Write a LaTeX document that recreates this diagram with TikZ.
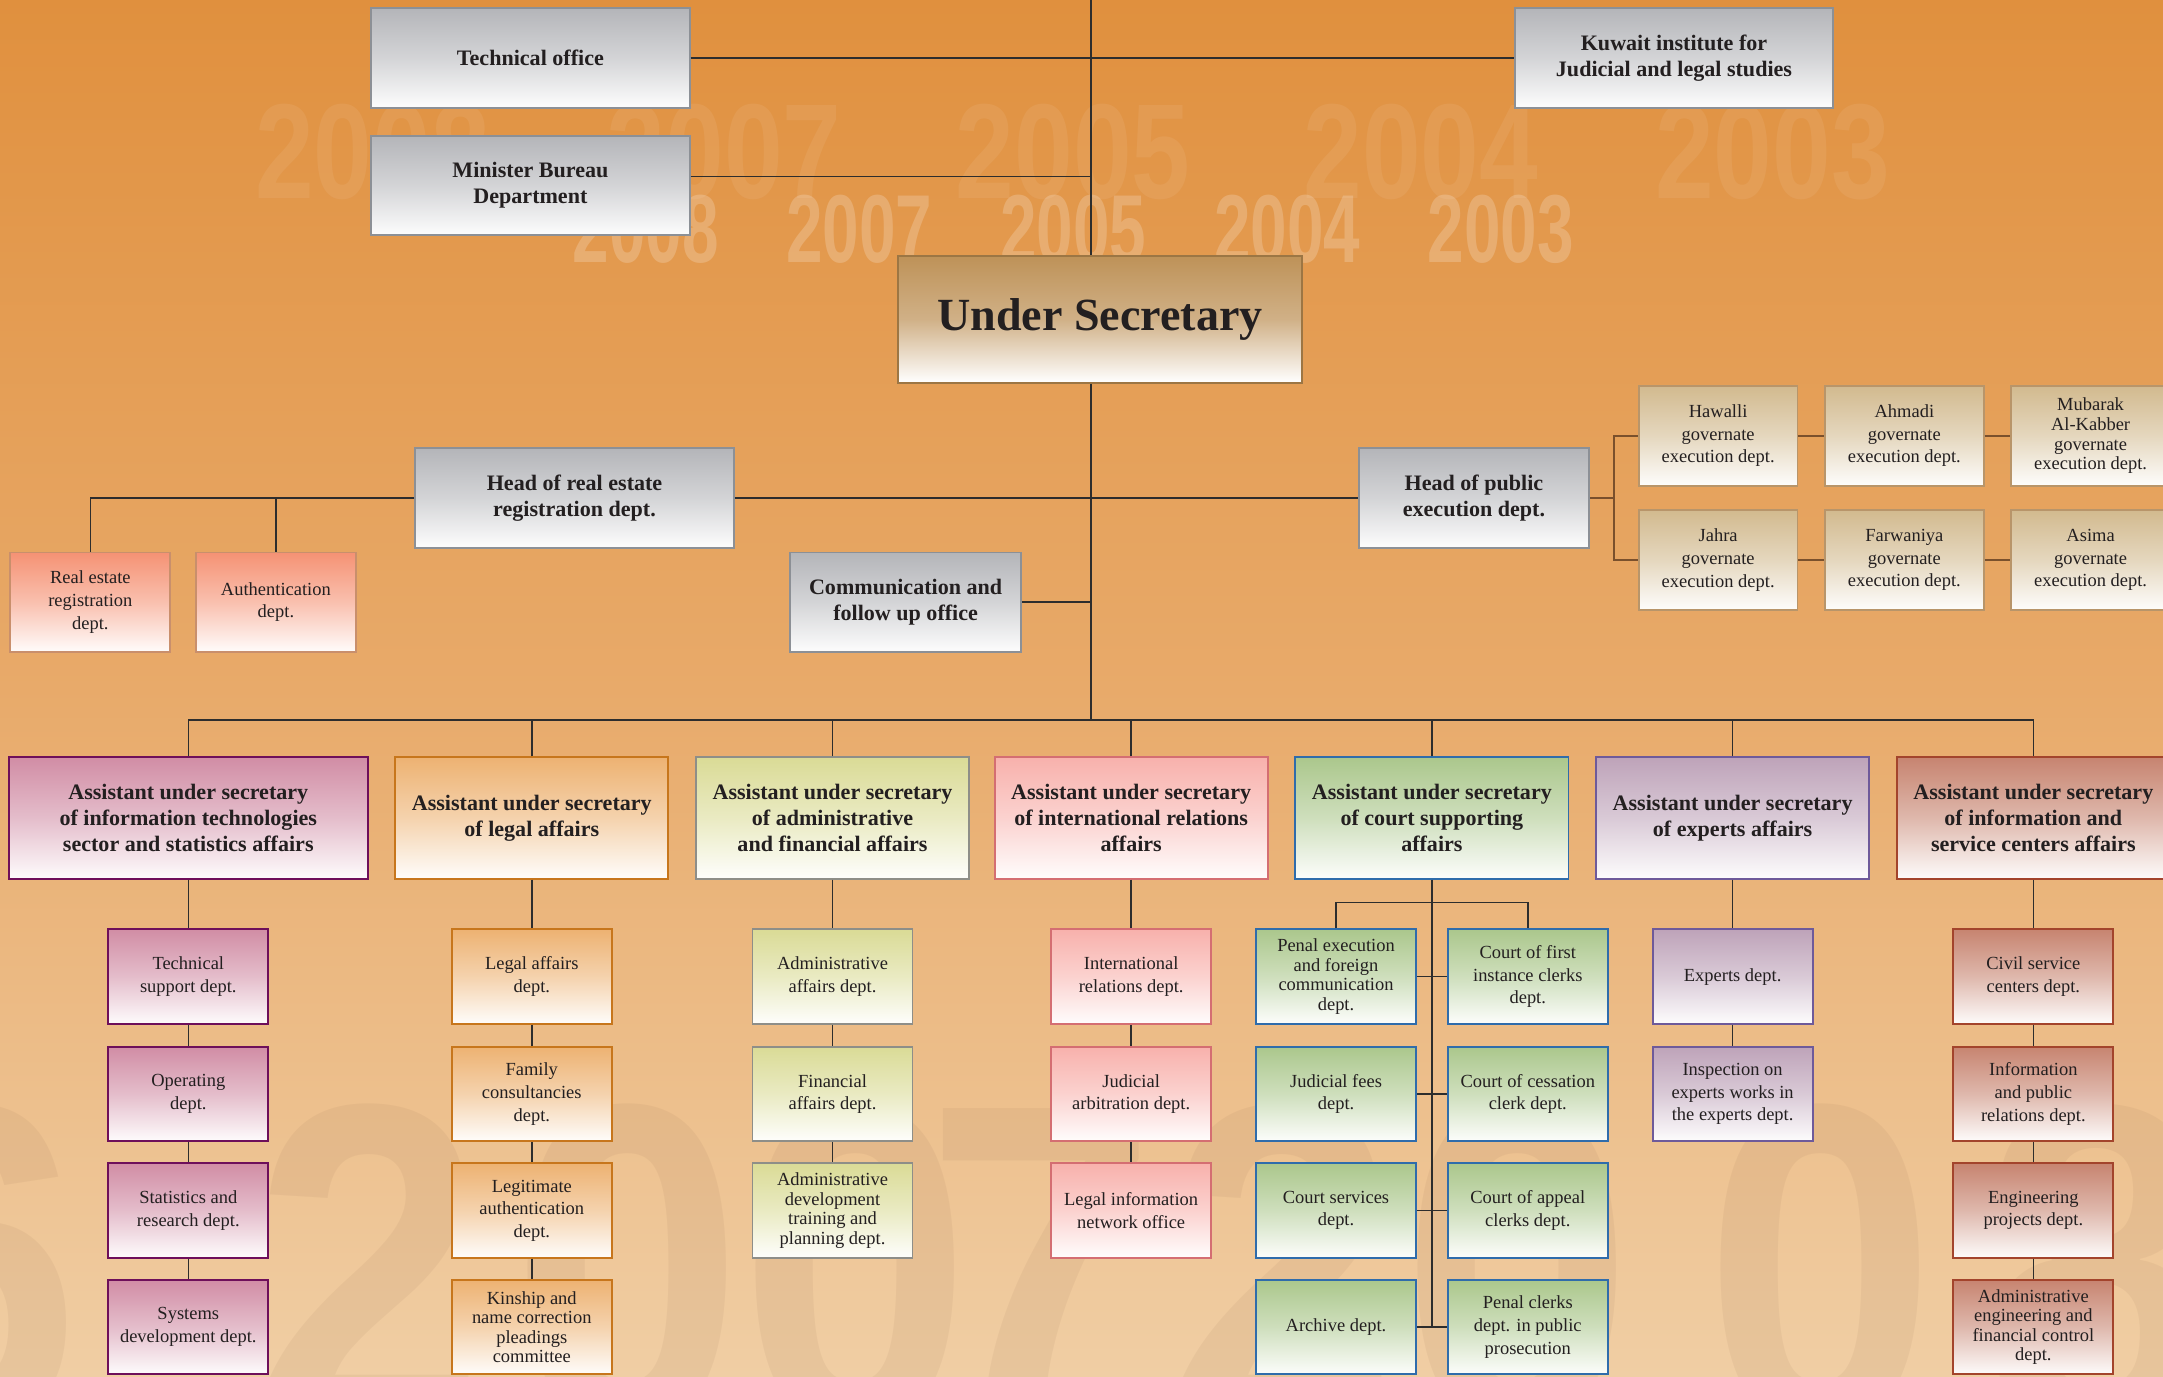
\documentclass[tikz,border=0pt]{standalone}
\usepackage{fontspec}
\setmainfont{Liberation Serif}
\newfontfamily\yearfont{Liberation Sans}
\usepackage{tikz}
\usetikzlibrary{calc}
\usetikzlibrary{shadings}

\definecolor{ink}{RGB}{35,31,32}
\definecolor{wire}{RGB}{45,45,45}
\definecolor{govwire}{RGB}{122,80,44}
\definecolor{bgtop}{RGB}{224,144,62}
\definecolor{bgmid}{RGB}{232,170,106}
\definecolor{bgbottom}{RGB}{240,206,164}
\definecolor{yearshade}{RGB}{120,80,60}
\definecolor{greytop}{RGB}{180,181,185}
\definecolor{greyedge}{RGB}{140,144,150}
\definecolor{bosstop}{RGB}{190,146,88}
\definecolor{bossedge}{RGB}{156,118,68}
\definecolor{govtop}{RGB}{210,186,143}
\definecolor{govedge}{RGB}{184,149,106}
\definecolor{salmontop}{RGB}{245,146,116}
\definecolor{salmonedge}{RGB}{201,143,108}
\definecolor{ittop}{RGB}{209,141,165}
\definecolor{itedge}{RGB}{110,15,90}
\definecolor{legaltop}{RGB}{237,178,114}
\definecolor{legaledge}{RGB}{199,118,28}
\definecolor{admintop}{RGB}{218,219,150}
\definecolor{adminedge}{RGB}{142,142,136}
\definecolor{intltop}{RGB}{248,177,172}
\definecolor{intledge}{RGB}{212,110,114}
\definecolor{courttop}{RGB}{171,199,140}
\definecolor{courtedge}{RGB}{47,108,171}
\definecolor{experttop}{RGB}{190,163,185}
\definecolor{expertedge}{RGB}{110,90,154}
\definecolor{infotop}{RGB}{199,132,112}
\definecolor{infoedge}{RGB}{163,68,44}

\newcommand{\headfont}{\fontsize{8}{9.4}\selectfont\bfseries}
\newcommand{\deptfont}{\fontsize{6.7}{8.2}\selectfont}
\newcommand{\packfont}{\fontsize{6.7}{7.1}\selectfont}
\newcommand{\bossfont}{\fontsize{16.7}{20}\selectfont\bfseries}
\newcommand{\widthoffice}{115.5pt}
\newcommand{\widthhead}{83.5pt}
\newcommand{\widthassist}{99pt}
\newcommand{\widthdept}{58pt}

\tikzset{
    common/.style={draw, rectangle, align=center, text=ink, inner sep=1pt, line width=0.7pt},
    tint/.style 2 args={common, top color=#1, bottom color=#1!3!white, middle color=#1!58!white, draw=#2},
    office/.style={tint={greytop}{greyedge}, font=\headfont, minimum width=\widthoffice, minimum height=36pt},
    headbox/.style={office, minimum width=\widthhead},
    boss/.style={common, top color=bosstop, bottom color=white, middle color=bosstop!72!white, draw=bossedge,
        font=\bossfont, minimum width=146.5pt, minimum height=46pt},
    gov/.style={tint={govtop}{govedge}, font=\deptfont, minimum width=57.5pt, minimum height=36pt},
    estate/.style={tint={salmontop}{salmonedge}, font=\deptfont, minimum width=58pt, minimum height=36pt},
    assist/.style={tint={#1top}{#1edge}, font=\headfont, minimum width=\widthassist, minimum height=44pt},
    dept/.style={tint={#1top}{#1edge}, font=\deptfont, minimum width=\widthdept, minimum height=34.25pt},
    packed/.style={font=\packfont},
    link/.style={draw=wire, line width=0.55pt},
    govlink/.style={draw=govwire, line width=0.9pt},
    yearlight/.style={inner sep=0pt, text=white, text opacity=0.2, font={\yearfont\bfseries\fontsize{35}{35}\selectfont}},
    yearfaint/.style={inner sep=0pt, text=white, text opacity=0.07, font={\yearfont\bfseries\fontsize{49}{49}\selectfont}},
    yeargiant/.style={inner sep=0pt, anchor=base, text=yearshade, text opacity=0.07, font={\yearfont\bfseries\fontsize{168}{168}\selectfont}}
}

\begin{document}
\begin{tikzpicture}[x=0.5pt, y=-0.5pt]
    \useasboundingbox (0,0) rectangle (1568,998);
    \fill[top color=bgtop, bottom color=bgbottom, middle color=bgmid] (0,0) rectangle (1568,998);

    % years behind the chart
    \foreach \yr/\px [count=\i] in {2008/270, 2007/525, 2005/778, 2004/1030, 2003/1285}
        \node[yearfaint] (yf\i) at (\px,110) {\scalebox{0.78}[1]{\yr}};
    \foreach \yr/\px [count=\i] in {2008/468, 2007/623, 2005/778, 2004/933, 2003/1088}
        \node[yearlight] (yl\i) at (\px,166) {\scalebox{0.68}[1]{\yr}};
    \foreach \dg/\px [count=\i] in {6/-25, 2/268, 0/455, 0/620, 7/755, 2/930, 0/1100, 0/1320, 8/1520}
        \node[yeargiant] (yg\i) at (\px,1035) {\scalebox{0.9}[1]{\dg}};

    % top offices
    \node[office] (tech) at (384.5,42) {Technical office};
    \node[office] (minister) at (384.5,134.5) {Minister Bureau\\Department};
    \node[office] (kuwait) at (1213.5,42) {Kuwait institute for\\Judicial and legal studies};
    \node[boss] (under) at (797.5,231.5) {Under Secretary};

    \coordinate (crown) at (791,0);
    \coordinate (mbjoin) at (791,128);
    \coordinate (hub) at (791,522);
    \coordinate (govfork) at (1170,361);

    % heads
    \node[office] (realhead) at (416.5,361) {Head of real estate\\registration dept.};
    \node[headbox] (pubhead) at (1068.5,361) {Head of public\\execution dept.};
    \node[headbox] (comm) at (656.5,436.5) {Communication and\\follow up office};
    \node[estate] (realreg) at (65.5,436.5) {Real estate\\registration\\dept.};
    \node[estate] (auth) at (200,436.5) {Authentication\\dept.};

    % governates
    \node[gov] (hawalli) at (1245.5,316) {Hawalli\\governate\\execution dept.};
    \node[gov] (ahmadi) at (1380.5,316) {Ahmadi\\governate\\execution dept.};
    \node[gov, packed] (mubarak) at (1515.5,316) {Mubarak\\Al-Kabber\\governate\\execution dept.};
    \node[gov] (jahra) at (1245.5,406) {Jahra\\governate\\execution dept.};
    \node[gov] (farwaniya) at (1380.5,406) {Farwaniya\\governate\\execution dept.};
    \node[gov] (asima) at (1515.5,406) {Asima\\governate\\execution dept.};

    % assistant under secretaries
    \node[assist=it, minimum width=130pt] (asit) at (136.5,593) {Assistant under secretary\\of information technologies\\sector and statistics affairs};
    \node[assist=legal] (aslegal) at (385.5,593) {Assistant under secretary\\of legal affairs};
    \node[assist=admin] (asadmin) at (603.5,593) {Assistant under secretary\\of administrative\\and financial affairs};
    \node[assist=intl] (asintl) at (820,593) {Assistant under secretary\\of international relations\\affairs};
    \node[assist=court] (ascourt) at (1038,593) {Assistant under secretary\\of court supporting\\affairs};
    \node[assist=expert] (asexpert) at (1256,593) {Assistant under secretary\\of experts affairs};
    \node[assist=info] (asinfo) at (1474,593) {Assistant under secretary\\of information and\\service centers affairs};

    % departments
    \node[dept=it] (it1) at (136.5,708) {Technical\\support dept.};
    \node[dept=it] (it2) at (136.5,793) {Operating\\dept.};
    \node[dept=it] (it3) at (136.5,877.5) {Statistics and\\research dept.};
    \node[dept=it] (it4) at (136.5,962) {Systems\\development dept.};

    \node[dept=legal] (legal1) at (385.5,708) {Legal affairs\\dept.};
    \node[dept=legal] (legal2) at (385.5,793) {Family\\consultancies\\dept.};
    \node[dept=legal] (legal3) at (385.5,877.5) {Legitimate\\authentication\\dept.};
    \node[dept=legal, packed] (legal4) at (385.5,962) {Kinship and\\name correction\\pleadings\\committee};

    \node[dept=admin] (admin1) at (603.5,708) {Administrative\\affairs dept.};
    \node[dept=admin] (admin2) at (603.5,793) {Financial\\affairs dept.};
    \node[dept=admin, packed] (admin3) at (603.5,877.5) {Administrative\\development\\training and\\planning dept.};

    \node[dept=intl] (intl1) at (820,708) {International\\relations dept.};
    \node[dept=intl] (intl2) at (820,793) {Judicial\\arbitration dept.};
    \node[dept=intl] (intl3) at (820,877.5) {Legal information\\network office};

    \node[dept=court, packed] (courtL1) at (968.5,708) {Penal execution\\and foreign\\communication\\dept.};
    \node[dept=court] (courtL2) at (968.5,793) {Judicial fees\\dept.};
    \node[dept=court] (courtL3) at (968.5,877.5) {Court services\\dept.};
    \node[dept=court] (courtL4) at (968.5,962) {Archive dept.};
    \node[dept=court] (courtR1) at (1107.5,708) {Court of first\\instance clerks\\dept.};
    \node[dept=court] (courtR2) at (1107.5,793) {Court of cessation\\clerk dept.};
    \node[dept=court] (courtR3) at (1107.5,877.5) {Court of appeal\\clerks dept.};
    \node[dept=court] (courtR4) at (1107.5,962) {Penal clerks\\dept. in public\\prosecution};

    \node[dept=expert] (expert1) at (1256,708) {Experts dept.};
    \node[dept=expert] (expert2) at (1256,793) {Inspection on\\experts works in\\the experts dept.};

    \node[dept=info] (info1) at (1474,708) {Civil service\\centers dept.};
    \node[dept=info] (info2) at (1474,793) {Information\\and public\\relations dept.};
    \node[dept=info] (info3) at (1474,877.5) {Engineering\\projects dept.};
    \node[dept=info, packed] (info4) at (1474,962) {Administrative\\engineering and\\financial control\\dept.};

    % connectors
    \draw[link] (crown) -- (crown |- under.north);
    \draw[link] (tech) -- (kuwait);
    \draw[link] ([yshift=3.25pt]minister.east) -- (mbjoin);
    \draw[link] (hub |- under.south) -- (hub);
    \draw[link] (realhead) -- (pubhead);
    \draw[link] (realhead.west) -| (realreg.north);
    \draw[link] (auth.north) -- (auth.north |- realhead.west);
    \draw[link] (comm.east) -- (comm.east -| hub);

    \draw[govlink] (pubhead.east) -- (govfork);
    \draw[govlink] (hawalli.west) -| (govfork) |- (jahra.west);
    \draw[govlink] (hawalli) -- (ahmadi) -- (mubarak);
    \draw[govlink] (jahra) -- (farwaniya) -- (asima);

    \draw[link] (asit.north) |- (hub) -| (asinfo.north);
    \foreach \n in {aslegal, asadmin, asintl, ascourt, asexpert}
        \draw[link] (\n.north) -- (\n.north |- hub);

    \draw[link] (asit) -- (it1) -- (it2) -- (it3) -- (it4);
    \draw[link] (aslegal) -- (legal1) -- (legal2) -- (legal3) -- (legal4);
    \draw[link] (asadmin) -- (admin1) -- (admin2) -- (admin3);
    \draw[link] (asintl) -- (intl1) -- (intl2) -- (intl3);
    \draw[link] (asexpert) -- (expert1) -- (expert2);
    \draw[link] (asinfo) -- (info1) -- (info2) -- (info3) -- (info4);

    \draw[link] (ascourt.south) -- (ascourt.south |- courtL4.east);
    \draw[link] (courtL1.north) -- ++(0,-19) -| (courtR1.north);
    \draw[link] (courtL1) -- (courtR1);
    \draw[link] (courtL2) -- (courtR2);
    \draw[link] (courtL3) -- (courtR3);
    \draw[link] (courtL4) -- (courtR4);
\end{tikzpicture}
\end{document}
